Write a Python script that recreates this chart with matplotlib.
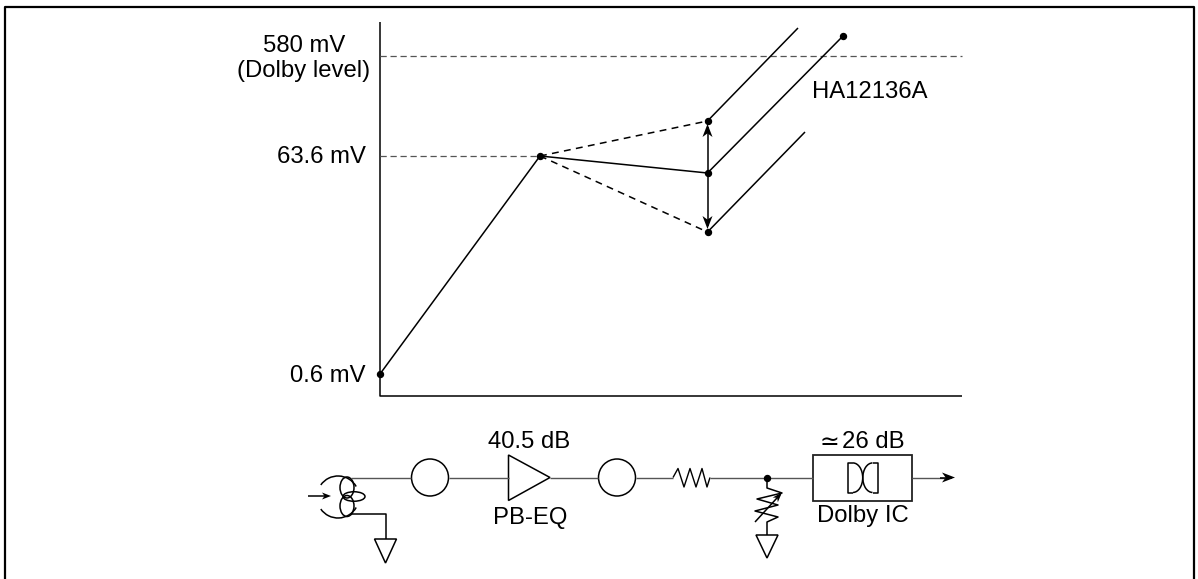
import numpy as np
import matplotlib.pyplot as plt
from matplotlib.patches import Arc, Circle, Ellipse, Polygon, Rectangle

plt.rcParams['font.family'] = ['Liberation Sans', 'DejaVu Sans']

level_y = [56, 156, 374]

knee = (540, 156)
start = (380, 374)
high = (707.5, 121)
mid = (707.5, 173)
low = (707.5, 232)
high_end = (798, 28)
mid_end = (843, 36)
low_end = (805, 132)

wire_y = 477.5
circle_x = [430, 617]
res_x = [673, 678, 684, 690, 696, 702, 707, 710]
res_y = [477.5, 468.5, 487, 468.5, 487, 468.5, 487, 477.5]
pot_x = [767, 767, 782, 757, 778, 755, 778, 767, 767]
pot_y = [478, 488, 493, 499, 505, 511, 517, 522, 535]

fig = plt.figure(figsize=(11.98, 5.79), dpi=100)
ax = fig.add_axes([0, 0, 1, 1])
ax.set_xlim(0, 1198)
ax.set_ylim(579, 0)
ax.axis('off')

LW = 1.1
FS = 17.2
GRAY = '#555555'


def line(xs, ys, lw=LW, color='black', **kw):
    ax.plot(xs, ys, color=color, lw=lw, solid_capstyle='butt', **kw)


def ground(x, top, half=11, h=24):
    ax.add_patch(Polygon([(x - half, top), (x + half, top), (x, top + h)],
                         closed=True, fill=False, ec='black', lw=LW))


def arrow(p0, p1, length=13, half=5):
    # shaft plus a barbed filled head
    p0, p1 = np.array(p0, float), np.array(p1, float)
    d = (p1 - p0) / np.linalg.norm(p1 - p0)
    n = np.array([-d[1], d[0]])
    line([p0[0], p1[0] - d[0] * 3], [p0[1], p1[1] - d[1] * 3])
    head = [p1, p1 - d * length + n * half, p1 - d * length * 0.72, p1 - d * length - n * half]
    ax.add_patch(Polygon(head, closed=True, color='black', lw=0))


# Frame, open at the bottom
line([5, 5, 1194, 1194], [579, 7, 7, 579], lw=1.6)

# Axes
line([380, 380, 962], [22, 396, 396], lw=1.1)

# Level lines
line([380, 962], [level_y[0]] * 2, lw=0.9, color=GRAY, linestyle=(0, (5, 3)))
line([380, knee[0]], [level_y[1]] * 2, lw=0.9, color=GRAY, linestyle=(0, (5, 3)))

# Level curves
line([start[0], knee[0], mid[0], mid_end[0]], [start[1], knee[1], mid[1], mid_end[1]])
line([high[0], high_end[0]], [high[1], high_end[1]])
line([low[0], low_end[0]], [low[1], low_end[1]])
line([knee[0], high[0]], [knee[1], high[1]], linestyle=(0, (4.5, 3.5)))
line([knee[0], low[0]], [knee[1], low[1]], linestyle=(0, (4.5, 3.5)))

dots = [start, knee, high, mid, low, mid_end]
ax.plot([d[0] for d in dots], [d[1] for d in dots], 'o', color='black', ms=4.3)

# Adjustment arrows
arrow(mid, (high[0], high[1] + 3))
arrow(mid, (low[0], low[1] - 3))

# Labels for the levels
ax.text(304, 46, "580 mV", ha='center', va='center', fontsize=FS)
ax.text(304, 71, "(Dolby level)", ha='center', va='center', fontsize=FS)
ax.text(366, 157, "63.6 mV", ha='right', va='center', fontsize=FS)
ax.text(366, 376, "0.6 mV", ha='right', va='center', fontsize=FS)
ax.text(812, 92, "HA12136A", ha='left', va='center', fontsize=FS)

# Playback head
ax.add_patch(Arc((338, 497), 42, 42, theta1=30, theta2=145, color='black', lw=LW))
ax.add_patch(Arc((338, 497), 42, 42, theta1=215, theta2=330, color='black', lw=LW))
ax.add_patch(Ellipse((347, 487.5), 14, 21, fill=False, ec='black', lw=LW))
ax.add_patch(Ellipse((347, 506), 14, 21, fill=False, ec='black', lw=LW))
ax.add_patch(Ellipse((354, 496.5), 22, 9.5, fill=False, ec='black', lw=LW))
line([351, 411], [wire_y, wire_y], lw=1, color=GRAY)
line([351, 385.5, 385.5], [514, 514, 539])
ground(385.5, 539)
arrow((308, 496), (331, 496), length=9, half=3.5)

# Signal path
line([449, 508.5], [wire_y, wire_y], lw=1, color=GRAY)
line([550, 598], [wire_y, wire_y], lw=1, color=GRAY)
line([636, res_x[0]], [wire_y, wire_y], lw=1, color=GRAY)
line(res_x, res_y, lw=1)
line([res_x[-1], 813], [wire_y, wire_y], lw=1, color=GRAY)
for x in circle_x:
    ax.add_patch(Circle((x, wire_y), 18.5, fill=False, ec='black', lw=LW))
ax.add_patch(Polygon([(508.5, 455), (550, wire_y), (508.5, 500.5)], closed=True,
                     fill=False, ec='black', lw=LW))
ax.add_patch(Rectangle((813, 455), 99, 45.5, fill=False, ec='#222222', lw=1.3))

# Double-D symbol
line([853, 847.7, 847.7, 853], [463, 463, 492.5, 492.5])
line([872.5, 878, 878, 872.5], [463, 463, 492.5, 492.5])
ax.add_patch(Arc((853, 477.7), 19.4, 29.5, theta1=270, theta2=90, color='black', lw=LW))
ax.add_patch(Arc((872.5, 477.7), 19.4, 29.5, theta1=90, theta2=270, color='black', lw=LW))

# Level pot
ax.plot([767], [wire_y], 'o', color='black', ms=4.3)
line(pot_x, pot_y)
ground(767, 535, half=11, h=23)
arrow((755, 522), (782, 492.5), length=10, half=3.5)

# Output arrow
line([912, 945], [wire_y, wire_y], lw=1, color=GRAY)
arrow((940, wire_y), (955, wire_y), length=13, half=5)

# Circuit labels
ax.text(529, 442, "40.5 dB", ha='center', va='center', fontsize=FS)
ax.text(530, 518, "PB-EQ", ha='center', va='center', fontsize=FS)
ax.text(829, 442, "\u2243", ha='center', va='center', fontsize=17, family='DejaVu Sans')
ax.text(842.5, 442, "26 dB", ha='left', va='center', fontsize=FS)
ax.text(862.7, 516, "Dolby IC", ha='center', va='center', fontsize=FS)

plt.savefig("out.png", dpi=100)
